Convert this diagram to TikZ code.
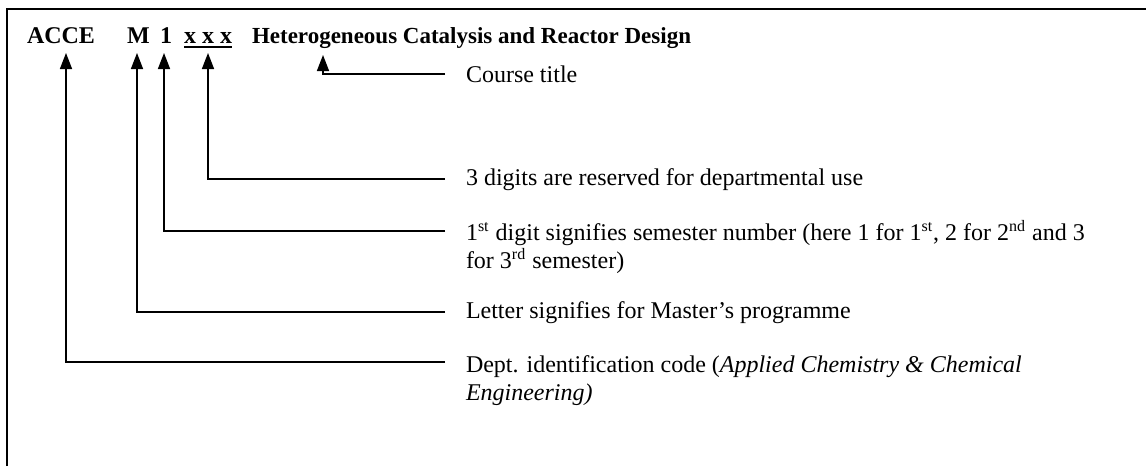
\documentclass[tikz,border=0pt]{standalone}
\usepackage{fontspec}
\setmainfont{Liberation Serif}
\usetikzlibrary{arrows.meta}
\begin{document}
\begin{tikzpicture}[x=0.5pt,y=-0.5pt,
  every node/.style={inner sep=0pt,outer sep=0pt,font=\fontsize{12}{14.3}\selectfont},
  codepart/.style={anchor=base west,font=\fontsize{12}{14.3}\selectfont\bfseries},
  titlepart/.style={anchor=base west,font=\fontsize{11.5}{14.3}\selectfont\bfseries},
  label/.style={anchor=base west},
  pointer/.style={line width=0.75pt,-{Triangle[width=6pt,length=8pt]}},
  frame/.style={line width=1pt}]
\useasboundingbox (0,0) rectangle (1146,466);
% frame
\draw[frame] (7,466) -- (7,9) -- (1146,9);
% code line
\node[codepart] (acce) at (27,43) {ACCE};
\node[codepart] (m) at (127,43) {M};
\node[codepart] (one) at (160,43) {1};
\node[codepart] (xxx) at (184,43) {x x x};
\node[titlepart] (title) at (252,43) {Heterogeneous Catalysis and Reactor Design};
\draw[line width=1pt] ([yshift=-2pt]xxx.base west) -- ([yshift=-2pt]xxx.base east);
% arrow tips
\coordinate (tA) at (66,53);
\coordinate (tM) at (137,53);
\coordinate (tO) at (164,53);
\coordinate (tX) at (208,53);
\coordinate (tT) at (323,55);
% line ends
\coordinate (eT) at (445,74);
\coordinate (eX) at (445,179);
\coordinate (eO) at (445,231);
\coordinate (eM) at (445,312);
\coordinate (eA) at (445,362);
% labels
\node[label] (lT) at (466,82) {Course title};
\node[label] (lX) at (466,185) {3 digits are reserved for departmental use};
\node[label] (lO) at (466,240) {\begin{tabular}[t]{@{}l@{}}1\textsuperscript{st} digit signifies semester number (here 1 for 1\textsuperscript{st}, 2 for 2\textsuperscript{nd} and 3\\for 3\textsuperscript{rd} semester)\end{tabular}};
\node[label] (lM) at (466,318) {Letter signifies for Master’s programme};
\node[label] (lA) at (466,372) {\begin{tabular}[t]{@{}l@{}}Dept. identification code (\textit{Applied Chemistry \& Chemical}\\\textit{Engineering)}\end{tabular}};
% connectors
\draw[pointer] (eT) -| (tT);
\draw[pointer] (eX) -| (tX);
\draw[pointer] (eO) -| (tO);
\draw[pointer] (eM) -| (tM);
\draw[pointer] (eA) -| (tA);
\end{tikzpicture}
\end{document}
